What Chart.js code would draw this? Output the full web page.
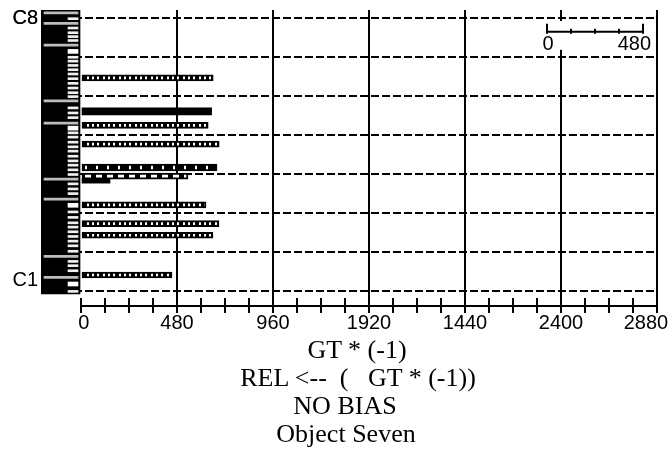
<!DOCTYPE html>
<html><head>
<meta charset="UTF-8">
<title>Object Seven</title>
<script src="https://cdn.jsdelivr.net/npm/chart.js"></script>
<style>
  body { margin: 0; background: #fff; }
  #wrap { position: relative; width: 671px; height: 453px; }
  .cap {
    position: absolute; width: 400px; text-align: center; white-space: pre;
    font: 26px "Liberation Serif", "Times New Roman", serif; line-height: 30px; color: #000;
  }
</style>
</head>
<body>
<div id="wrap">
  <canvas id="chart" width="671" height="453"></canvas>
  <div class="cap" style="left:157px;top:335px">GT * (-1)</div>
  <div class="cap" style="left:158px;top:363px">REL &lt;--  (   GT * (-1))</div>
  <div class="cap" style="left:145px;top:391px">NO BIAS</div>
  <div class="cap" style="left:146px;top:419px">Object Seven</div>
</div>
<script>
// x axis (labels as printed on the original)
const xTickLabels = ['0', '480', '960', '1920', '1440', '2400', '2880'];
const xMajor = 480, xMinor = 120, xMax = 2880, stripStart = -200;

// y axis: row lines C1..C8
const rowLines = [1, 2, 3, 4, 5, 6, 7, 8];
const rowLabelPos = [1.26, 8];
const rowLabels = ['C1', 'C8'];

// bars by fill style (row position, value)
const dottedPos = [6.47, 5.25, 4.77, 3.21, 2.73, 2.43, 1.41];
const dottedVal = [661, 636, 691, 625, 690, 660, 455];
const solidPos = [5.61];
const solidVal = [653];
const sparsePos = [4.17];
const sparseVal = [680];
const dashPos = [3.95];
const dashVal = [535];
const thinPos = [3.82];
const thinVal = [145];

// marks on the left strip
const longMarks = [8.14, 7.87, 7.31, 5.88, 5.31, 3.87, 3.36, 1.89, 1.35];
const shortMarks = [7.99, 7.75, 7.63, 7.53, 7.43, 7.00, 6.90, 6.79, 6.68, 6.57, 6.45, 6.33, 6.21, 6.09, 5.99,
  5.70, 5.57, 5.45, 5.06, 4.95, 4.82, 4.70, 4.59, 4.46, 4.34, 4.23, 4.11, 3.99, 3.75, 3.62, 3.50,
  3.03, 2.89, 2.75, 2.64, 2.52, 2.40, 2.28, 2.16, 2.02, 1.76, 1.65, 1.52, 0.99];
const blockMarks = [7.15, 5.18, 3.20, 1.18];

// scale ruler, top right
const rulerStart = 2330;
const rulerTicks = [0, 120, 240, 360, 480];
const rulerLabels = ['0', '480'];
const rulerRow = 7.655;

function holesPattern(w, holes) {
  const c = document.createElement('canvas');
  c.width = w; c.height = 1;
  const g = c.getContext('2d');
  g.fillStyle = '#000'; g.fillRect(0, 0, w, 1);
  g.fillStyle = '#fff';
  holes.forEach(h => g.fillRect(h[0], 0, h[1], 1));
  return g.createPattern(c, 'repeat');
}
const dots = holesPattern(16, [[1, 2], [7, 2], [12, 2]]);
const sparseDots = holesPattern(11, [[8, 2]]);
const dashes = holesPattern(11, [[8, 3], [0, 3]]);

const pts = (pos, val) => pos.map((p, i) => ({ x: val[i], y: p }));
const marks = (pos, from) => pos.map(p => ({ x: [from, -15], y: p }));

const axisPlugin = {
  id: 'axisRuler',
  afterDatasetsDraw(chart) {
    const { ctx, scales: { x, y } } = chart;
    ctx.save();
    // blank box behind the ruler
    const bx0 = x.getPixelForValue(2250), bx1 = x.getPixelForValue(2870);
    const by0 = y.getPixelForValue(7.93), by1 = y.getPixelForValue(7.19);
    ctx.fillStyle = '#fff';
    ctx.fillRect(bx0, by0, bx1 - bx0, by1 - by0);
    const ry = y.getPixelForValue(rulerRow);
    const last = rulerTicks[rulerTicks.length - 1];
    ctx.strokeStyle = '#000';
    ctx.lineWidth = 2;
    ctx.beginPath();
    ctx.moveTo(x.getPixelForValue(rulerStart), ry);
    ctx.lineTo(x.getPixelForValue(rulerStart + last), ry);
    rulerTicks.forEach((t, i) => {
      const px = x.getPixelForValue(rulerStart + t);
      const end = i === 0 || i === rulerTicks.length - 1;
      ctx.moveTo(px, ry - (end ? 8 : 3));
      ctx.lineTo(px, ry + 2);
    });
    ctx.stroke();
    ctx.fillStyle = '#000';
    ctx.font = '20px "Liberation Sans"';
    ctx.textBaseline = 'alphabetic';
    ctx.textAlign = 'center';
    ctx.fillText(rulerLabels[0], x.getPixelForValue(rulerStart) + 1, ry + 18);
    ctx.textAlign = 'right';
    ctx.fillText(rulerLabels[1], x.getPixelForValue(rulerStart + last) + 8, ry + 18);
    ctx.restore();
  },
  afterDraw(chart) {
    const { ctx, chartArea, scales: { x } } = chart;
    const y0 = chartArea.bottom;
    ctx.save();
    ctx.strokeStyle = '#000';
    ctx.lineWidth = 2;
    ctx.beginPath();
    ctx.moveTo(x.getPixelForValue(0), y0);
    ctx.lineTo(x.getPixelForValue(xMax), y0);
    x.ticks.forEach(t => {
      const px = x.getPixelForValue(t.value);
      ctx.moveTo(px, y0 - 8);
      ctx.lineTo(px, y0 + 7);
    });
    ctx.stroke();
    ctx.restore();
  }
};

const barBase = { grouped: false, borderSkipped: false };

new Chart(document.getElementById('chart'), {
  type: 'bar',
  data: {
    datasets: [
      { ...barBase, data: pts(dottedPos, dottedVal), backgroundColor: dots, borderColor: '#000', borderWidth: 2, barThickness: 6, order: 1 },
      { ...barBase, data: pts(solidPos, solidVal), backgroundColor: '#000', borderWidth: 0, barThickness: 7, order: 1 },
      { ...barBase, data: pts(sparsePos, sparseVal), backgroundColor: sparseDots, borderColor: '#000', borderWidth: 2, barThickness: 7, order: 1 },
      { ...barBase, data: pts(dashPos, dashVal), backgroundColor: dashes, borderColor: '#000', borderWidth: 2, barThickness: 6, order: 1 },
      { ...barBase, data: pts(thinPos, thinVal), backgroundColor: '#000', borderWidth: 0, barThickness: 4, order: 1 },
      { ...barBase, data: marks(longMarks, -185), backgroundColor: '#bdbdbd', borderWidth: 0, barThickness: 2, order: 5 },
      { ...barBase, data: marks(shortMarks, -65), backgroundColor: '#efefef', borderWidth: 0, barThickness: 2, order: 5 },
      { ...barBase, data: marks(blockMarks, -65), backgroundColor: '#ffffff', borderWidth: 0, barThickness: 4, order: 5 },
      { ...barBase, data: [{ x: [stripStart, 0], y: 4.568 }], backgroundColor: '#000', borderWidth: 0, barThickness: 284, order: 10 }
    ]
  },
  options: {
    indexAxis: 'y',
    responsive: false,
    animation: false,
    events: [],
    layout: { padding: { top: 10, right: 14, bottom: 0, left: 0 } },
    plugins: { legend: { display: false }, tooltip: { enabled: false } },
    scales: {
      x: {
        type: 'linear',
        min: stripStart,
        max: xMax,
        bounds: 'data',
        offset: false,
        afterBuildTicks: s => {
          const t = [];
          for (let v = 0; v <= xMax; v += xMinor) t.push({ value: v });
          s.ticks = t;
        },
        afterFit: s => { s.height = 147; s.paddingLeft = 0; s.paddingRight = 0; },
        border: { display: false },
        grid: {
          offset: false,
          drawTicks: false,
          lineWidth: 2,
          color: c => (c.tick && c.tick.value > 0 && c.tick.value % xMajor === 0) ? '#000' : 'rgba(0,0,0,0)'
        },
        ticks: {
          autoSkip: false,
          maxRotation: 0,
          padding: 5,
          color: '#000',
          font: { family: '"Liberation Sans"', size: 20 },
          callback: v => {
            if (v % xMajor !== 0) return '';
            const i = v / xMajor;
            const s = xTickLabels[i];
            if (i === 0) return ' ' + s;
            if (i === xTickLabels.length - 1) return s + '    ';
            return s;
          }
        }
      },
      y: {
        type: 'linear',
        min: 0.615,
        max: 8.213,
        bounds: 'data',
        offset: false,
        afterBuildTicks: s => {
          s.ticks = rowLines.concat(rowLabelPos).sort((a, b) => a - b).map(v => ({ value: v }));
        },
        afterFit: s => { s.width = 41; s.paddingTop = 0; s.paddingBottom = 0; },
        border: { display: false, dash: [8, 3] },
        grid: {
          offset: false,
          drawTicks: false,
          lineWidth: 2,
          color: c => (c.tick && rowLines.includes(c.tick.value)) ? '#000' : 'rgba(0,0,0,0)'
        },
        ticks: {
          autoSkip: false,
          padding: 3,
          color: '#000',
          font: { family: '"Liberation Sans"', size: 20 },
          callback: v => {
            const i = rowLabelPos.indexOf(v);
            return i >= 0 ? rowLabels[i] : '';
          }
        }
      }
    }
  },
  plugins: [axisPlugin]
});
</script>
</body></html>
